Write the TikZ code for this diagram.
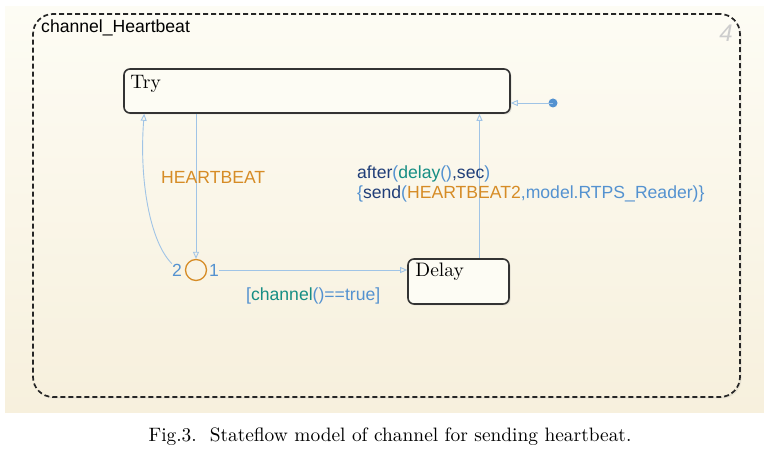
\documentclass[tikz,border=0pt]{standalone}
\usepackage{fontspec}
\newfontfamily\sfl{Liberation Sans}
\usetikzlibrary{arrows.meta,shadows}

\definecolor{bgtop}{RGB}{253,252,244}
\definecolor{bgbot}{RGB}{247,240,221}
\definecolor{statefill}{RGB}{253,252,244}
\definecolor{trline}{RGB}{160,196,230}
\definecolor{cnavy}{RGB}{32,62,120}
\definecolor{cblue}{RGB}{84,146,208}
\definecolor{cteal}{RGB}{22,142,132}
\definecolor{corange}{RGB}{214,140,38}
\definecolor{cgray}{RGB}{205,205,205}

\newcommand{\cnv}[1]{\textcolor{cnavy}{#1}}
\newcommand{\cbl}[1]{\textcolor{cblue}{#1}}
\newcommand{\ctl}[1]{\textcolor{cteal}{#1}}
\newcommand{\cor}[1]{\textcolor{corange}{#1}}

\begin{document}
\begin{tikzpicture}[x=1pt,y=-1pt,
  state/.style={draw=black!80, line width=1.6pt, rounded corners=6pt, fill=statefill, inner sep=0pt,
    drop shadow={opacity=0.2, shadow xshift=1.5pt, shadow yshift=-1.5pt}},
  tr/.style={draw=trline, line width=0.9pt, -{Triangle[open,length=7pt,width=6pt]}},
  lbl/.style={font=\sfl\fontsize{17.6}{20}\selectfont, inner sep=0pt, anchor=west},
  sname/.style={font=\fontsize{10}{12}\selectfont, scale=1.95, inner sep=0pt, anchor=north west}]
  \useasboundingbox (0,0) rectangle (764,470);
  \fill[top color=bgtop, bottom color=bgbot] (5,7) rectangle (764,413);

  % chart border
  \node[draw=black!85, line width=1.7pt, dash pattern=on 5pt off 3pt, rounded corners=20pt,
    top color=bgtop, bottom color=bgbot,
    minimum width=707pt, minimum height=383pt, inner sep=0pt,
    drop shadow={opacity=0.15, shadow xshift=1.5pt, shadow yshift=-1.5pt}] (chart) at (386.5,205.5) {};
  \node[lbl] (cname) at (41,28) {channel\_Heartbeat};
  \node[font=\sfl\itshape\fontsize{24}{24}\selectfont, text=cgray, inner sep=0pt] (num) at (726,33) {4};

  % states
  \node[state, minimum width=386pt, minimum height=44pt] (try) at (317,91) {};
  \node[sname] (trytxt) at (130,75) {Try};
  \node[state, minimum width=101pt, minimum height=45pt] (delay) at (458.5,281.5) {};
  \node[sname] (delaytxt) at (415,263) {Delay};

  % junction
  \node[draw=corange, line width=1.3pt, circle, minimum size=21pt, inner sep=0pt] (jct) at (196,270) {};
  \node[lbl, anchor=center, text=cblue] (j2) at (177,270) {2};
  \node[lbl, anchor=center, text=cblue] (j1) at (214,270) {1};

  % default transition
  \fill[cblue] (553,103) circle (4.5pt) coordinate (dot);
  \draw[tr] (dot) -- (dot -| try.east);

  % transitions
  \draw[tr] (try.south -| jct.north) -- (jct.north);
  \draw[tr] (j1.east) -- (j1.east -| delay.west);
  \draw[tr] (j2.north west) .. controls (150,242) and (139,180) .. ([xshift=21pt]try.south west);
  \draw[tr] ([xshift=21pt]delay.north) -- ([xshift=21pt]delay.north |- try.south);

  % labels
  \node[lbl, text=corange] (hb) at (161,177) {HEARTBEAT};
  \node[lbl, anchor=north west, align=left] (act) at (357,166)
    {\cnv{after}\cbl{(}\ctl{delay}\cbl{()}\cnv{,sec}\cbl{)}\\
     \cbl{\{}\cnv{send}\cbl{(}\cor{HEARTBEAT2}\cbl{,model.RTPS\_Reader)\}}};
  \node[lbl] (cond) at (246,296) {\cbl{[}\ctl{channel}\cbl{()==true]}};

  % caption
  \node[font=\fontsize{10}{12}\selectfont, scale=1.94, inner sep=0pt] (cap) at (390,437)
    {Fig.3.\ \ Stateflow model of channel for sending heartbeat.};
\end{tikzpicture}
\end{document}
